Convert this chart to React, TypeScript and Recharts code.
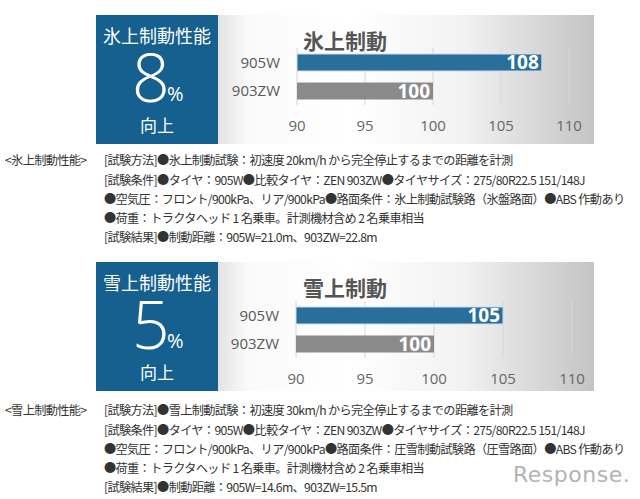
import React from "react";
import { BarChart, Bar, XAxis, YAxis, CartesianGrid, LabelList, Cell } from "recharts";

const tires = ["905W", "903ZW"];
const iceValues = [108, 100];
const snowValues = [105, 100];
const axisTicks = [90, 95, 100, 105, 110];
const barColors = ["#2a6f9b", "#8a8a8a"];

const iceNotes = [
  "[試験方法]●氷上制動試験：初速度 20km/h から完全停止するまでの距離を計測",
  "[試験条件]●タイヤ：905W●比較タイヤ：ZEN 903ZW●タイヤサイズ：275/80R22.5 151/148J",
  "●空気圧：フロント/900kPa、リア/900kPa●路面条件：氷上制動試験路（氷盤路面）●ABS 作動あり",
  "●荷重：トラクタヘッド 1 名乗車。計測機材含め 2 名乗車相当",
  "[試験結果]●制動距離：905W=21.0m、903ZW=22.8m",
];
const snowNotes = [
  "[試験方法]●雪上制動試験：初速度 30km/h から完全停止するまでの距離を計測",
  "[試験条件]●タイヤ：905W●比較タイヤ：ZEN 903ZW●タイヤサイズ：275/80R22.5 151/148J",
  "●空気圧：フロント/900kPa、リア/900kPa●路面条件：圧雪制動試験路（圧雪路面）●ABS 作動あり",
  "●荷重：トラクタヘッド 1 名乗車。計測機材含め 2 名乗車相当",
  "[試験結果]●制動距離：905W=14.6m、903ZW=15.5m",
];

const jp = "'Noto Sans CJK JP', 'Noto Sans', sans-serif";
const latin = "'Open Sans', 'Noto Sans', sans-serif";

function Panel({ top, boxLabel, percent, title, values, chartTop, plotLeft, plotRight }) {
  const data = tires.map((name, i) => ({ name, value: values[i] }));
  const panelLeft = 218;
  const panelRight = 594;
  return (
    <>
      <div
        style={{
          position: "absolute",
          left: panelLeft,
          top,
          width: panelRight - panelLeft,
          height: 129,
          background:
            "linear-gradient(90deg, #e4e4e4 0%, #fafafa 8%, #ffffff 35%, #f2f2f2 65%, #c4c4c4 100%)",
        }}
      />
      <div
        style={{
          position: "absolute",
          left: 96,
          top,
          width: 122,
          height: 129,
          background: "#15608f",
          color: "#fff",
          fontFamily: jp,
        }}
      >
        <div style={{ position: "absolute", left: 0, width: 122, top: 9, textAlign: "center", fontSize: 18, lineHeight: "22px" }}>
          {boxLabel}
        </div>
        <div style={{ position: "absolute", left: 36, top: 28, fontSize: 66, fontFamily: latin, fontWeight: 300, lineHeight: "66px" }}>
          {percent}
        </div>
        <div style={{ position: "absolute", left: 71, top: 69, fontSize: 20, fontFamily: latin, lineHeight: "20px" }}>%</div>
        <div style={{ position: "absolute", left: 0, width: 122, top: 100, textAlign: "center", fontSize: 17, lineHeight: "20px" }}>
          向上
        </div>
      </div>
      <div
        style={{
          position: "absolute",
          left: 303,
          top: top + 13,
          fontSize: 21,
          lineHeight: "24px",
          fontWeight: 700,
          color: "#555",
          fontFamily: jp,
        }}
      >
        {title}
      </div>
      <div style={{ position: "absolute", left: panelLeft, top: chartTop }}>
        <BarChart
          layout="vertical"
          width={panelRight - panelLeft}
          height={128}
          data={data}
          margin={{ top: 33, right: panelRight - plotRight, bottom: 0, left: 0 }}
          barSize={17}
        >
          <CartesianGrid horizontal={false} stroke="#d6d6d6" />
          <XAxis
            type="number"
            domain={[90, 110]}
            ticks={axisTicks}
            allowDataOverflow
            axisLine={false}
            tickLine={false}
            tickMargin={9}
            height={38}
            tick={{ fontSize: 15, fill: "#666", fontFamily: latin }}
          />
          <YAxis
            type="category"
            dataKey="name"
            width={plotLeft - panelLeft}
            axisLine={false}
            tickLine={false}
            tickSize={6}
            tickMargin={11}
            tick={{ fontSize: 15, fill: "#595959", fontFamily: latin }}
          />
          <Bar dataKey="value" isAnimationActive={false}>
            {data.map((d, i) => (
              <Cell key={d.name} fill={barColors[i]} stroke={i === 0 ? "#c9dcea" : "none"} />
            ))}
            <LabelList
              dataKey="value"
              position="insideRight"
              offset={3}
              fill="#fff"
              style={{ fontSize: 19, fontWeight: 700, fontFamily: latin }}
            />
          </Bar>
        </BarChart>
      </div>
    </>
  );
}

function Notes({ top, heading, lines }) {
  const tops = [0, 20, 39, 58, 77];
  const text = { position: "absolute", letterSpacing: -0.65 } as const;
  return (
    <div style={{ position: "absolute", left: 0, top, fontFamily: jp, fontSize: 12.2, color: "#333", whiteSpace: "nowrap" }}>
      <div style={{ ...text, left: 5, top: 0 }}>{heading}</div>
      {lines.map((l, i) => (
        <div key={i} style={{ ...text, left: 104, top: tops[i] }}>
          {l}
        </div>
      ))}
    </div>
  );
}

export default function App() {
  return (
    <div style={{ position: "absolute", left: 0, top: 0, width: 640, height: 499, background: "#fff", overflow: "hidden" }}>
      <Panel
        top={15}
        boxLabel="氷上制動性能"
        percent="8"
        title="氷上制動"
        values={iceValues}
        chartTop={15}
        plotLeft={297}
        plotRight={569}
      />
      <Panel
        top={262}
        boxLabel="雪上制動性能"
        percent="5"
        title="雪上制動"
        values={snowValues}
        chartTop={268}
        plotLeft={296}
        plotRight={572}
      />
      <Notes top={151} heading="<氷上制動性能>" lines={iceNotes} />
      <Notes top={401} heading="<雪上制動性能>" lines={snowNotes} />
      <div
        style={{
          position: "absolute",
          left: 513,
          top: 462,
          fontSize: 22,
          color: "#b3b3b3",
          fontFamily: "'DejaVu Sans', sans-serif",
          letterSpacing: 0.5,
        }}
      >
        Response.
      </div>
    </div>
  );
}
